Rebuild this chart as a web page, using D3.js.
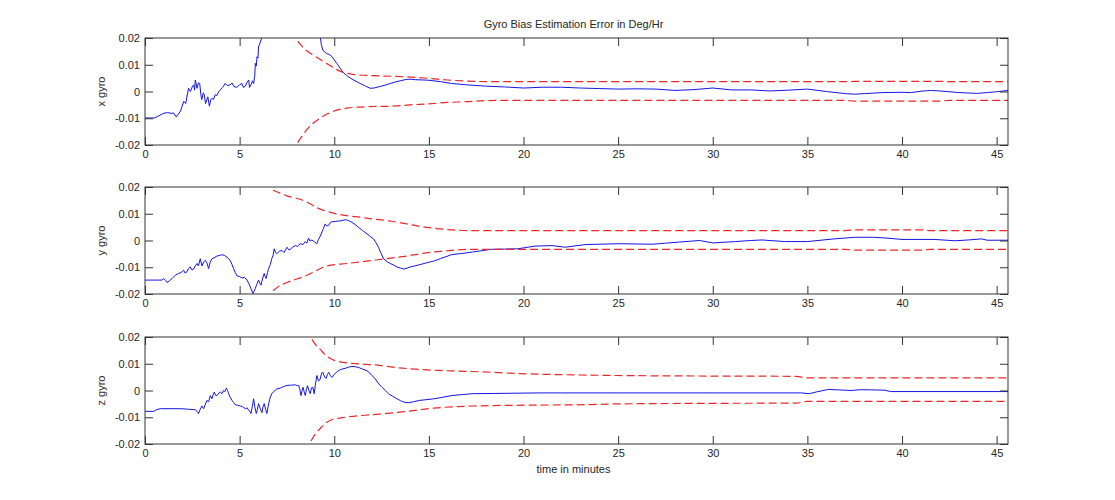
<!DOCTYPE html>
<html>
<head>
<meta charset="utf-8">
<script src="https://cdn.jsdelivr.net/npm/d3@7/dist/d3.min.js"></script>
<style>
  html, body { margin: 0; padding: 0; background: #fff; }
  svg { display: block; font-family: "Liberation Sans", Arial, Helvetica, sans-serif; }
</style>
</head>
<body>
<svg id="chart" width="1115" height="500"></svg>
<script>
// ---------------- DATA ----------------
const titleText = "Gyro Bias Estimation Error in Deg/Hr";
const xLabelText = "time in minutes";
const panelLabels = ["x gyro", "y gyro", "z gyro"];
const xTicks = [0, 5, 10, 15, 20, 25, 30, 35, 40, 45];
const yTicks = [0.02, 0.01, 0, -0.01, -0.02];
const yTickLabels = ["0.02", "0.01", "0", "-0.01", "-0.02"];
const xDomain = [0, 45.6];
const yDomain = [-0.02, 0.02];

// x gyro: estimation error [minutes, value]
const xGyroError = [[0,-0.0099],[0.5,-0.0099],[0.7,-0.0092],[1.0,-0.0081],[1.2,-0.0079],[1.4,-0.0082],[1.5,-0.0080],[1.65,-0.0095],[1.87,-0.0074],[2.05,-0.0037],[2.15,-0.0045],[2.3,0.0012],[2.4,0.0],[2.5,0.0018],[2.57,0.0025],[2.62,0.0005],[2.66,0.0043],[2.75,0.0012],[2.82,0.0032],[2.89,0.003],[2.95,-0.001],[3.0,-0.003],[3.08,-0.0005],[3.13,-0.0012],[3.2,-0.0045],[3.24,-0.0037],[3.32,-0.002],[3.4,-0.0055],[3.48,-0.003],[3.54,-0.0025],[3.62,-0.003],[3.71,-0.0012],[3.8,-0.0015],[3.9,0.0],[3.98,0.0006],[4.1,0.0015],[4.24,0.003],[4.35,0.0022],[4.5,0.0025],[4.6,0.0032],[4.7,0.0018],[4.86,0.0016],[5.0,0.0025],[5.12,0.003],[5.2,0.0015],[5.3,0.002],[5.4,0.0035],[5.48,0.0043],[5.52,0.0015],[5.6,0.0025],[5.68,0.004],[5.74,0.003],[5.8,0.006],[5.83,0.0105],[5.88,0.0095],[5.92,0.013],[5.97,0.0125],[6.0,0.0167],[6.1,0.0185],[6.18,0.0204],[6.3,0.022],[6.7,0.026],[7.5,0.03],[8.5,0.028],[9.0,0.024],[9.26,0.0204],[9.32,0.0175],[9.4,0.0154],[9.5,0.0148],[9.6,0.0142],[9.75,0.0138],[9.88,0.013],[10.0,0.0118],[10.14,0.0105],[10.3,0.0088],[10.49,0.007],[10.65,0.006],[10.85,0.005],[11.1,0.004],[11.37,0.003],[11.6,0.0022],[11.9,0.0012],[12.1,0.0013],[12.43,0.0019],[12.7,0.0024],[12.96,0.003],[13.2,0.0035],[13.49,0.004],[13.8,0.0045],[14.0,0.0046],[14.3,0.0044],[14.7,0.0043],[15.0,0.0042],[15.6,0.0037],[16.2,0.003],[17,0.0025],[18,0.002],[19,0.0017],[20,0.0013],[21,0.0016],[22,0.0016],[23,0.0013],[24,0.0011],[25,0.0009],[26,0.001],[27,0.0009],[28,0.0004],[29,0.0007],[30,0.0013],[31,0.0006],[32,0.0006],[33,0.0002],[34,0.0005],[35,0.0009],[36,0.0],[37,-0.0008],[37.5,-0.001],[38,-0.0008],[39,-0.0004],[40,-0.0003],[40.5,-0.0004],[41,0.0001],[41.5,0.0004],[42,0.0002],[43,-0.0004],[44,-0.0007],[44.5,-0.0004],[45,-0.0001],[45.6,0.0004]];
const xGyroUpper = [[8.07,0.0188],[8.5,0.0155],[8.9,0.0136],[9.6,0.0105],[10.3,0.0076],[11.0,0.0064],[12.1,0.0059],[13.0,0.0057],[14.0,0.0054],[15.0,0.0049],[16,0.0043],[17,0.0039],[18,0.0037],[25,0.0037],[37,0.0037],[38,0.0038],[42,0.0038],[42.5,0.0037],[45.6,0.0037]];
const xGyroLower = [[8.07,-0.0191],[8.56,-0.0142],[9.26,-0.0099],[9.96,-0.0074],[10.67,-0.0062],[12.1,-0.0056],[13.0,-0.0055],[14,-0.005],[15,-0.0046],[16,-0.0041],[17,-0.0038],[18,-0.0034],[20,-0.0033],[37,-0.0033],[37.5,-0.0036],[42,-0.0036],[42.5,-0.0033],[45.6,-0.0033]];

// y gyro
const yGyroError = [[0,-0.0148],[0.9,-0.0148],[0.99,-0.0142],[1.1,-0.015],[1.16,-0.0157],[1.3,-0.015],[1.43,-0.0142],[1.6,-0.013],[1.78,-0.0123],[1.9,-0.012],[2.04,-0.0111],[2.12,-0.0122],[2.22,-0.0117],[2.3,-0.0105],[2.39,-0.0099],[2.48,-0.011],[2.57,-0.0107],[2.65,-0.0095],[2.75,-0.0086],[2.82,-0.0095],[2.92,-0.0068],[3.01,-0.0095],[3.1,-0.008],[3.19,-0.0074],[3.28,-0.0085],[3.36,-0.0105],[3.45,-0.008],[3.54,-0.0068],[3.65,-0.0065],[3.8,-0.0058],[3.95,-0.0056],[4.07,-0.0053],[4.2,-0.0056],[4.33,-0.0062],[4.5,-0.0074],[4.6,-0.009],[4.68,-0.0105],[4.77,-0.012],[4.86,-0.0132],[5.0,-0.0135],[5.12,-0.014],[5.25,-0.0138],[5.39,-0.0148],[5.48,-0.016],[5.56,-0.0173],[5.63,-0.0185],[5.7,-0.0198],[5.76,-0.019],[5.83,-0.0179],[5.9,-0.0165],[6.0,-0.0148],[6.07,-0.016],[6.13,-0.0167],[6.22,-0.014],[6.3,-0.0123],[6.35,-0.0135],[6.4,-0.0142],[6.47,-0.012],[6.53,-0.0105],[6.62,-0.009],[6.7,-0.0068],[6.77,-0.0055],[6.83,-0.0031],[6.9,-0.0045],[6.97,-0.0049],[7.1,-0.004],[7.24,-0.0037],[7.35,-0.0045],[7.5,-0.0025],[7.6,-0.0035],[7.68,-0.0033],[7.8,-0.0025],[7.94,-0.0019],[8.05,-0.0022],[8.2,-0.0012],[8.35,-0.0015],[8.47,-0.0004],[8.55,-0.001],[8.64,0.0009],[8.72,-0.0002],[8.82,0.0002],[8.95,-0.0005],[9.08,-0.0012],[9.17,0.0005],[9.26,0.0016],[9.4,0.004],[9.52,0.0062],[9.6,0.0055],[9.7,0.0056],[9.8,0.0068],[9.88,0.007],[10.05,0.0071],[10.23,0.0073],[10.4,0.0074],[10.58,0.0078],[10.75,0.0075],[10.93,0.0068],[11.1,0.006],[11.29,0.0049],[11.5,0.0037],[11.73,0.0025],[11.9,0.0015],[12.08,0.0006],[12.2,-0.0008],[12.34,-0.0025],[12.45,-0.0045],[12.61,-0.0068],[12.8,-0.008],[12.96,-0.0086],[13.15,-0.0092],[13.31,-0.0099],[13.5,-0.0103],[13.66,-0.0107],[13.85,-0.0103],[14.0,-0.0099],[14.25,-0.0095],[14.54,-0.009],[14.8,-0.0085],[15.07,-0.008],[15.3,-0.0076],[15.6,-0.0068],[16.2,-0.0053],[16.8,-0.0048],[17.3,-0.0043],[18.3,-0.0033],[19,-0.0032],[19.7,-0.0031],[20.6,-0.0021],[21.5,-0.0019],[22.2,-0.0025],[23.3,-0.0015],[24,-0.0014],[25,-0.0012],[26,-0.0013],[26.8,-0.0014],[27.5,-0.001],[28.2,-0.0006],[29.3,0.0],[30,-0.0009],[31.2,-0.0004],[32,0.0],[32.6,0.0002],[33.8,-0.0004],[35,-0.0004],[36.4,0.0006],[37.5,0.0012],[38.5,0.0012],[39.2,0.0009],[40,0.0004],[41,0.0004],[41.7,0.0004],[42.8,-0.0001],[43.5,0.0002],[44.2,0.0006],[44.5,0.0001],[45.6,0.0001]];
const yGyroUpper = [[6.76,0.0188],[7.1,0.0178],[7.5,0.0167],[8.2,0.0154],[8.6,0.0142],[9.08,0.0123],[9.8,0.0105],[10.67,0.0093],[11.4,0.0087],[12.08,0.008],[12.4,0.0078],[13.0,0.0072],[13.84,0.0062],[14.5,0.0053],[15.25,0.0046],[16,0.0041],[17.3,0.0037],[37,0.0037],[37.5,0.004],[41,0.004],[41.5,0.0037],[45.6,0.0037]];
const yGyroLower = [[6.76,-0.0188],[7.1,-0.017],[7.5,-0.0157],[8.56,-0.013],[9.0,-0.0115],[9.6,-0.0095],[10.67,-0.0086],[12.08,-0.0074],[12.4,-0.0071],[13.0,-0.0066],[13.84,-0.0058],[14.5,-0.005],[15.25,-0.0043],[16.2,-0.0037],[17.3,-0.0033],[37,-0.0033],[37.5,-0.0036],[41,-0.0036],[41.5,-0.0033],[45.6,-0.0033]];

// z gyro
const zGyroError = [[0,-0.0078],[0.46,-0.0078],[0.6,-0.0072],[0.81,-0.0068],[1.87,-0.0068],[2.3,-0.007],[2.66,-0.0072],[2.75,-0.0078],[2.83,-0.0086],[2.92,-0.007],[3.01,-0.0058],[3.1,-0.0068],[3.2,-0.005],[3.27,-0.0037],[3.36,-0.0042],[3.45,-0.0019],[3.54,-0.0031],[3.6,-0.0015],[3.66,-0.0006],[3.73,-0.0018],[3.8,-0.0019],[3.9,-0.001],[3.98,-0.0006],[4.07,-0.0012],[4.15,0.0],[4.22,-0.0004],[4.3,0.0009],[4.36,0.0],[4.42,-0.0012],[4.5,-0.0025],[4.6,-0.0037],[4.68,-0.0045],[4.77,-0.0053],[4.9,-0.0055],[5.04,-0.0058],[5.15,-0.006],[5.3,-0.0068],[5.4,-0.0065],[5.48,-0.0074],[5.55,-0.0078],[5.6,-0.0086],[5.67,-0.006],[5.74,-0.0031],[5.8,-0.006],[5.88,-0.0086],[5.94,-0.007],[6.0,-0.0049],[6.1,-0.007],[6.18,-0.0083],[6.24,-0.006],[6.3,-0.0049],[6.37,-0.007],[6.44,-0.0086],[6.53,-0.005],[6.62,-0.0025],[6.7,-0.0012],[6.8,-0.0004],[6.9,0.0002],[6.97,0.0006],[7.15,0.0009],[7.3,0.0014],[7.5,0.0019],[7.7,0.002],[7.94,0.0021],[8.05,0.0018],[8.12,0.0019],[8.18,0.0005],[8.24,-0.0019],[8.3,0.0],[8.35,0.0012],[8.41,-0.0005],[8.47,-0.0019],[8.53,0.0005],[8.59,0.0018],[8.66,0.0],[8.73,-0.0012],[8.8,0.001],[8.87,0.0012],[8.94,-0.0012],[9.0,0.002],[9.08,0.0056],[9.17,0.0035],[9.26,0.0043],[9.33,0.0065],[9.4,0.0068],[9.49,0.005],[9.58,0.0046],[9.64,0.006],[9.7,0.0068],[9.8,0.0055],[9.88,0.0049],[10.0,0.006],[10.14,0.007],[10.32,0.0078],[10.58,0.0083],[10.75,0.0087],[10.93,0.009],[11.1,0.0089],[11.29,0.0086],[11.5,0.008],[11.73,0.0074],[11.95,0.006],[12.17,0.0043],[12.35,0.0025],[12.52,0.0012],[12.7,0.0],[12.87,-0.0012],[13.1,-0.0022],[13.31,-0.0031],[13.5,-0.0038],[13.66,-0.0043],[13.93,-0.0046],[14.19,-0.0042],[14.5,-0.0037],[14.9,-0.0034],[15.25,-0.0031],[15.6,-0.0027],[16.2,-0.0019],[16.8,-0.0015],[17.3,-0.0012],[18.5,-0.0011],[20.8,-0.0009],[22,-0.0009],[25,-0.0009],[30,-0.0009],[34.7,-0.0009],[35.1,-0.0012],[35.5,-0.0005],[36.1,0.0004],[36.7,0.0002],[37.3,0.0],[37.8,0.0003],[38.6,0.0002],[39.1,0.0001],[39.4,-0.0004],[45.6,-0.0004]];
const zGyroUpper = [[8.82,0.0191],[9.0,0.0172],[9.26,0.0154],[9.5,0.0135],[9.8,0.012],[10.3,0.0107],[11.4,0.0099],[12.4,0.0094],[13.0,0.0088],[14.7,0.0078],[15.5,0.0075],[16.3,0.0073],[17.3,0.0071],[20.3,0.0062],[23,0.0058],[25,0.0056],[30,0.0054],[34.4,0.0053],[35,0.0047],[45.6,0.0047]];
const zGyroLower = [[8.77,-0.0189],[9.0,-0.0162],[9.26,-0.0142],[9.5,-0.0125],[9.8,-0.0111],[10.67,-0.0099],[12.08,-0.009],[12.4,-0.0088],[13.84,-0.0078],[15.25,-0.0066],[17.3,-0.0058],[20,-0.0055],[23.3,-0.0053],[25,-0.005],[30,-0.0048],[34.4,-0.0047],[35,-0.0041],[45.6,-0.0041]];

// ---------------- DRAW ----------------
const panels = [
  { label: panelLabels[0], err: xGyroError, up: xGyroUpper, lo: xGyroLower },
  { label: panelLabels[1], err: yGyroError, up: yGyroUpper, lo: yGyroLower },
  { label: panelLabels[2], err: zGyroError, up: zGyroUpper, lo: zGyroLower }
];
const panelTops = [38, 187, 337];
const panelH = 107;
const left = 145, right = 1008;
const tickLen = 8;
const axisColor = "#333";
const textColor = "#262626";

const svg = d3.select("#chart");
const x = d3.scaleLinear().domain(xDomain).range([left, right]);

svg.append("text")
  .attr("x", (left + right) / 2 - 3).attr("y", 28)
  .attr("text-anchor", "middle")
  .attr("font-size", 11).attr("fill", textColor)
  .text(titleText);

panels.forEach((p, i) => {
  const top = panelTops[i];
  const y = d3.scaleLinear().domain(yDomain).range([top + panelH, top]);
  const g = svg.append("g");

  const clipId = "clip" + i;
  svg.append("defs").append("clipPath").attr("id", clipId)
    .append("rect").attr("x", left).attr("y", top).attr("width", right - left).attr("height", panelH);

  const plot = g.append("g").attr("clip-path", `url(#${clipId})`);
  const line = d3.line().x(d => x(d[0])).y(d => y(d[1]));
  const smooth = d3.line().x(d => x(d[0])).y(d => y(d[1])).curve(d3.curveMonotoneX);

  plot.append("path").datum(p.err).attr("d", line)
    .attr("fill", "none").attr("stroke", "#1414e6").attr("stroke-width", 1);
  [p.up, p.lo].forEach(b => {
    plot.append("path").datum(b).attr("d", smooth)
      .attr("fill", "none").attr("stroke", "#e8282a").attr("stroke-width", 1.2)
      .attr("stroke-dasharray", "8,4");
  });

  // axes (ticks inward)
  const xb = d3.axisBottom(x).tickValues(xTicks).tickSizeInner(-tickLen).tickSizeOuter(0).tickPadding(5).tickFormat(d3.format("d"));
  const xt = d3.axisTop(x).tickValues(xTicks).tickSizeInner(-tickLen).tickSizeOuter(0).tickFormat("");
  const yl = d3.axisLeft(y).tickValues(yTicks).tickSizeInner(-tickLen).tickSizeOuter(0).tickPadding(5)
    .tickFormat(d => yTickLabels[yTicks.indexOf(d)]);
  const yr = d3.axisRight(y).tickValues(yTicks).tickSizeInner(-tickLen).tickSizeOuter(0).tickFormat("");

  const axes = [
    g.append("g").attr("transform", `translate(0,${top + panelH})`).call(xb),
    g.append("g").attr("transform", `translate(0,${top})`).call(xt),
    g.append("g").attr("transform", `translate(${left},0)`).call(yl),
    g.append("g").attr("transform", `translate(${right},0)`).call(yr)
  ];
  axes.forEach(a => {
    a.select(".domain").remove();
    a.selectAll("line").attr("stroke", axisColor);
    a.selectAll("text").attr("fill", textColor).attr("font-size", 11)
      .attr("font-family", '"Liberation Sans", Arial, sans-serif');
  });

  g.append("rect").attr("x", left).attr("y", top).attr("width", right - left).attr("height", panelH)
    .attr("fill", "none").attr("stroke", axisColor).attr("stroke-width", 1);

  g.append("text")
    .attr("transform", `translate(105,${top + panelH / 2}) rotate(-90)`)
    .attr("text-anchor", "middle").attr("font-size", 11).attr("fill", textColor)
    .text(p.label);
});

svg.append("text")
  .attr("x", (left + right) / 2 - 3).attr("y", 473)
  .attr("text-anchor", "middle")
  .attr("font-size", 11).attr("fill", textColor)
  .text(xLabelText);
</script>
</body>
</html>
